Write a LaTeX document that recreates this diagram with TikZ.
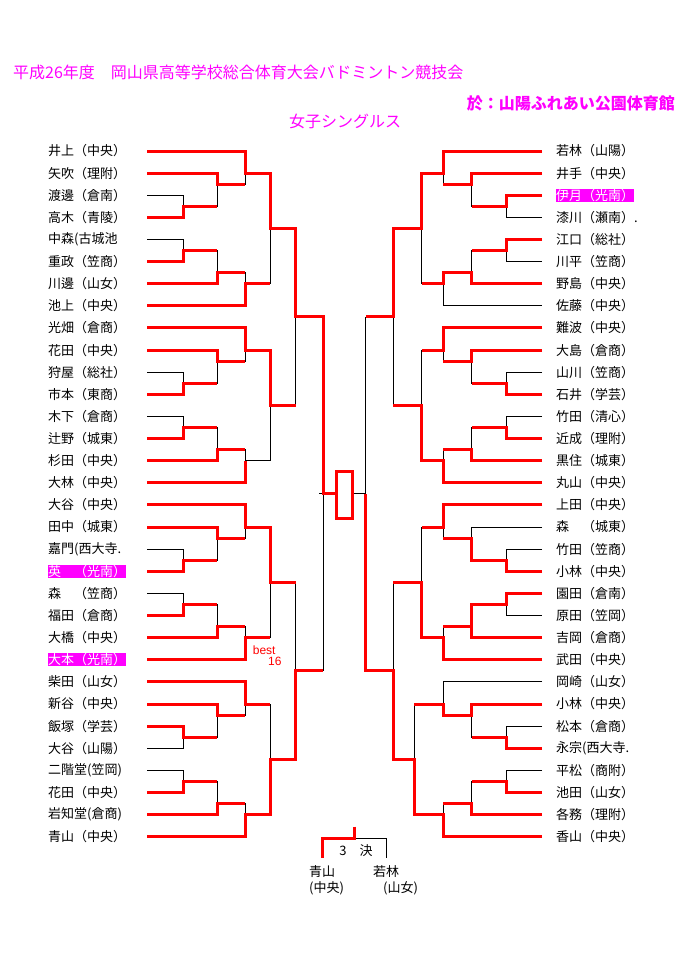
\documentclass[tikz,border=0pt]{standalone}
\usepackage{fontspec}
\setmainfont{Noto Sans CJK JP}
\newfontfamily\latinfont{Liberation Sans}
\usetikzlibrary{positioning}
\definecolor{pinkish}{RGB}{255,0,255}

% black skeleton of one block of eight: X0..X5, first half-row
\newcommand{\bracketgroup}[7]{%
  \draw[wire] (#1,#7) -| (#4,{#7+3}) -- (#3,{#7+3});
  \draw[wire] (#1,{#7+2}) -| (#3,{#7+5}) -- (#2,{#7+5});
  \draw[wire] (#1,{#7+4}) -| (#2,{#7+6}) -- (#1,{#7+6});
  \draw[wire] (#4,{#7+2}) -| (#5,{#7+12}) -- (#4,{#7+12});
  \draw[wire] (#1,{#7+8}) -| (#2,{#7+10}) -- (#1,{#7+10});
  \draw[wire] (#2,{#7+9}) -| (#3,{#7+12}) -- (#1,{#7+12});
  \draw[wire] (#3,{#7+11}) -| (#4,{#7+14}) -- (#1,{#7+14});
  \draw[wire] (#5,{#7+7}) -- (#6,{#7+7});
}

\begin{document}
\begin{tikzpicture}[x=1pt, y=-1pt]

  \tikzstyle{player}=[anchor=west, inner sep=0pt, font=\fontsize{13}{13}\selectfont]
  \tikzstyle{pick}=[player, fill=pinkish, text=white, minimum height=13.3pt]
  \tikzstyle{wire}=[line width=0.8pt]
  \tikzstyle{won}=[red, line width=3pt, line join=miter]
  \tikzstyle{heading}=[text=pinkish, inner sep=0pt, font=\fontsize{16}{16}\selectfont]

  \useasboundingbox[fill=white] (0,0) rectangle (688,971);

  \node[heading, anchor=west] (title) at (13,72) {平成26年度　岡山県高等学校総合体育大会バドミントン競技会};
  \node[heading, anchor=east, font=\fontsize{16}{16}\bfseries] (venue) at (675,103) {於：山陽ふれあい公園体育館};
  \node[heading] (event) at (345,121) {女子シングルス};

  \begin{scope}[shift={(0,151)}, y=-11.06pt]

    % names
    \foreach \n/\s [count=\i from 0] in {井上（中央）/player, 矢吹（理附）/player, 渡邊（倉南）/player, 高木（青陵）/player,
        中森(古城池/player, 重政（笠商）/player, 川邊（山女）/player, 池上（中央）/player,
        光畑（倉商）/player, 花田（中央）/player, 狩屋（総社）/player, 市本（東商）/player,
        木下（倉商）/player, 辻野（城東）/player, 杉田（中央）/player, 大林（中央）/player,
        大谷（中央）/player, 田中（城東）/player, 嘉門(西大寺./player, 英　（光南）/pick,
        森　（笠商）/player, 福田（倉商）/player, 大橋（中央）/player, 大本（光南）/pick,
        柴田（山女）/player, 新谷（中央）/player, 飯塚（学芸）/player, 大谷（山陽）/player,
        二階堂(笠岡)/player, 花田（中央）/player, 岩知堂(倉商)/player, 青山（中央）/player}
      \node[\s] (l\i) at (48,{2*\i}) {\n};

    \foreach \n/\s [count=\i from 0] in {若林（山陽）/player, 井手（中央）/player, 伊月（光南）/pick, 漆川（瀬南）./player,
        江口（総社）/player, 川平（笠商）/player, 野島（中央）/player, 佐藤（中央）/player,
        難波（中央）/player, 大島（倉商）/player, 山川（笠商）/player, 石井（学芸）/player,
        竹田（清心）/player, 近成（理附）/player, 黒住（城東）/player, 丸山（中央）/player,
        上田（中央）/player, 森　（城東）/player, 竹田（笠商）/player, 小林（中央）/player,
        園田（倉南）/player, 原田（笠岡）/player, 吉岡（倉商）/player, 武田（中央）/player,
        岡崎（山女）/player, 小林（中央）/player, 松本（倉商）/player, 永宗(西大寺./player,
        平松（商附）/player, 池田（山女）/player, 各務（理附）/player, 香山（中央）/player}
      \node[\s] (r\i) at (556,{2*\i}) {\n};

    % black skeleton
    \foreach \g in {0,16,32,48}
      \bracketgroup{147}{183}{217}{245}{270}{295.7}{\g};
    \foreach \g/\xf in {0/421.7,16/421.7,32/421.7,48/414.3}
      \bracketgroup{542}{506}{471.7}{443.3}{\xf}{393.3}{\g};
    \draw[wire] (295.7,7) -- (295.7,23);
    \draw[wire] (295.7,39) -- (295.7,55);
    \draw[wire] (295.7,15) -| (323,47) -- (295.7,47);
    \draw[wire] (319,31) -- (336.7,31);
    \draw[wire] (393.3,7) -- (393.3,23);
    \draw[wire] (393.3,39) -- (393.3,55);
    \draw[wire] (393.3,15) -| (365.7,47) -- (393.3,47);
    \draw[wire] (365.7,31) -- (352,31);

    % left winners
    \draw[won] (147,0) -| (245,2) -| (270,7) -| (295.7,15) -| (323,31) -- (336.7,31);
    \draw[won] (147,2) -| (217,3) -- (245,3);
    \draw[won] (147,6) -| (183,5) -- (217,5);
    \draw[won] (147,10) -| (183,9) -- (217,9);
    \draw[won] (147,12) -| (217,11) -- (245,11);
    \draw[won] (147,14) -| (245,12) -- (270,12);
    \draw[won] (147,16) -| (245,18) -| (270,23) -- (295.7,23);
    \draw[won] (147,18) -| (217,19) -- (245,19);
    \draw[won] (147,22) -| (183,21) -- (217,21);
    \draw[won] (147,26) -| (183,25) -- (217,25);
    \draw[won] (147,28) -| (217,27) -- (245,27);
    \draw[won] (147,30) -| (245,28);
    \draw[won] (147,32) -| (245,34) -| (270,39) -- (295.7,39);
    \draw[won] (147,34) -| (217,35) -- (245,35);
    \draw[won] (147,38) -| (183,37) -- (217,37);
    \draw[won] (147,42) -| (183,41) -- (217,41);
    \draw[won] (147,44) -| (217,43) -- (245,43);
    \draw[won] (147,46) -| (245,44) -- (270,44);
    \draw[won] (147,48) -| (245,50) -- (270,50);
    \draw[won] (147,50) -| (217,51) -- (245,51);
    \draw[won] (147,52) -| (183,53) -- (217,53);
    \draw[won] (147,58) -| (183,57) -- (217,57);
    \draw[won] (147,60) -| (217,59) -- (245,59);
    \draw[won] (147,62) -| (245,60) -| (270,55) -| (295.7,47) -- (323,47);

    % right winners
    \draw[won] (542,0) -| (443.3,2) -| (421.7,7) -| (393.3,15) -- (365.7,15);
    \draw[won] (542,2) -| (471.7,3) -- (443.3,3);
    \draw[won] (542,4) -| (506,5) -- (471.7,5);
    \draw[won] (542,8) -| (506,9) -- (471.7,9);
    \draw[won] (542,12) -| (471.7,11) -| (443.3,12) -- (421.7,12);
    \draw[won] (542,16) -| (443.3,18) -- (421.7,18);
    \draw[won] (542,18) -| (471.7,19) -- (443.3,19);
    \draw[won] (542,22) -| (506,21) -- (471.7,21);
    \draw[won] (542,26) -| (506,25) -- (471.7,25);
    \draw[won] (542,28) -| (471.7,27) -- (443.3,27);
    \draw[won] (542,30) -| (443.3,28) -| (421.7,23) -- (393.3,23);
    \draw[won] (542,32) -| (443.3,34) -- (421.7,34);
    \draw[won] (542,38) -| (506,37) -| (471.7,35) -- (443.3,35);
    \draw[won] (542,40) -| (506,41) -| (471.7,43) -- (443.3,43);
    \draw[won] (542,44) -| (471.7,43);
    \draw[won] (542,46) -| (443.3,44) -| (421.7,39) -- (393.3,39);
    \draw[won] (542,50) -| (471.7,51) -| (443.3,50) -- (414.3,50);
    \draw[won] (542,54) -| (506,53) -- (471.7,53);
    \draw[won] (542,58) -| (506,57) -- (471.7,57);
    \draw[won] (542,60) -| (471.7,59) -- (443.3,59);
    \draw[won] (542,62) -| (443.3,60) -| (414.3,55) -| (393.3,47) -| (365.7,31);

  \end{scope}

  % final
  \draw[won] (336.7,471.7) rectangle (352,518.3);

  \node[anchor=west, text=red, inner sep=0pt, font=\latinfont\fontsize{12}{12}\selectfont] (best) at (252.7,650) {best};
  \node[anchor=west, text=red, inner sep=0pt, font=\latinfont\fontsize{12}{12}\selectfont] (bestnum) at (268,661) {16};

  % third place
  \draw[wire] (322.7,838.3) -- (386.7,838.3) -- (386.7,858.3);
  \draw[won] (354,826.7) -- (354,838.3) -- (322.7,838.3) -- (322.7,858.3);
  \node[player, anchor=center] (third) at (356,851) {3　決};
  \node[player] (thirdl) at (309,872) {青山};
  \node[player, below=3pt of thirdl.south west, anchor=north west] (thirdlc) {(中央)};
  \node[player] (thirdr) at (373,872) {若林};
  \node[player, below=3pt of thirdr.south west, anchor=north west, xshift=10pt] (thirdrc) {(山女)};

\end{tikzpicture}
\end{document}
